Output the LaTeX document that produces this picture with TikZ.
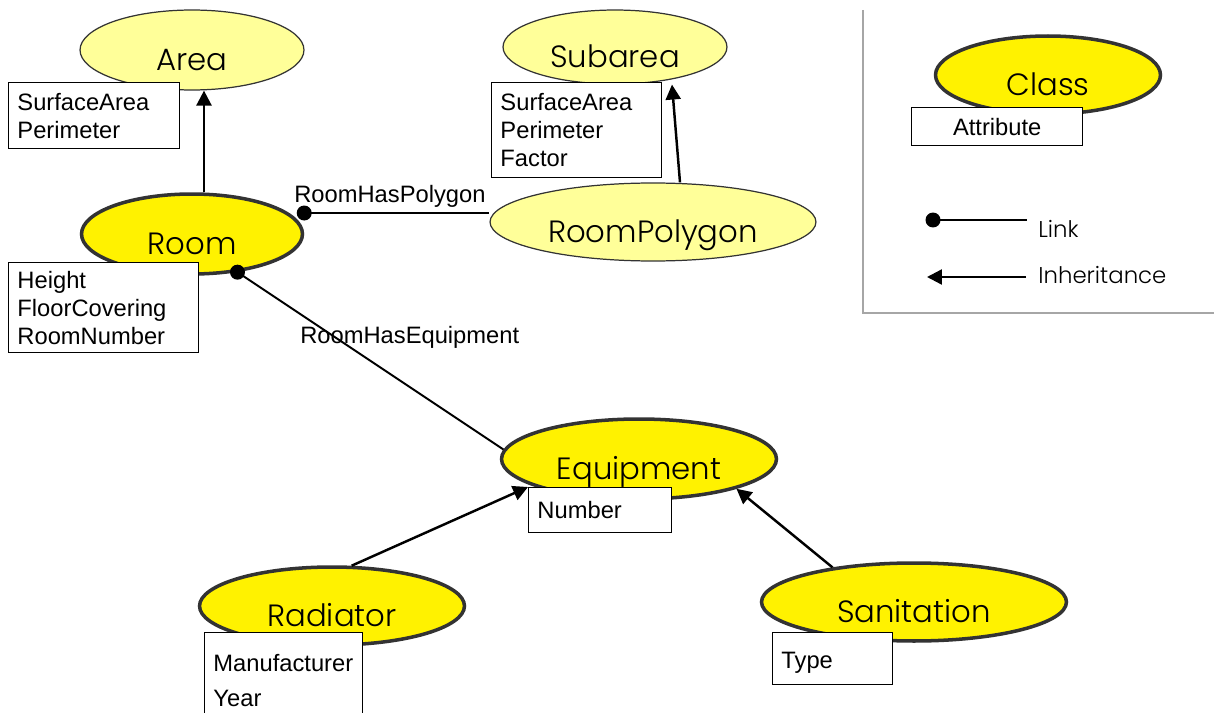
\documentclass[tikz,border=0pt]{standalone}
\usepackage{fontspec}
\setmainfont{Liberation Sans}
\newfontfamily\classfont{Poppins Light}
\usetikzlibrary{shapes.geometric}
\usetikzlibrary{arrows.meta}

\definecolor{paleyellow}{HTML}{FFFF99}
\definecolor{rimgray}{HTML}{333333}
\definecolor{framegray}{HTML}{A6A6A6}

% class names sit a little below the middle of their ellipse
\newcommand\clsname[1]{\raisebox{-7pt}[0.75em][0.2em]{#1}}

\tikzset{
  class/.style={ellipse, draw=rimgray, inner sep=0pt,
    font=\classfont\fontsize{17.5}{20}\selectfont},
  baseclass/.style={class, fill=paleyellow, line width=0.7pt},
  mainclass/.style={class, fill=yellow, line width=2pt},
  attr/.style={draw, fill=white, line width=0.8pt, anchor=north west, align=left,
    inner xsep=5pt, inner ysep=0pt, font=\fontsize{13.5}{15.9}\selectfont},
  inherit/.style={line width=1.4pt, -{Triangle[length=8.5pt,width=8.5pt]}},
  link/.style={line width=1.1pt},
  linklabel/.style={anchor=base west, inner sep=0pt, font=\fontsize{13.5}{16}\selectfont},
  legendlabel/.style={anchor=base west, inner sep=0pt, font=\classfont\fontsize{13}{16}\selectfont},
}

\begin{document}
\begin{tikzpicture}[x=0.02cm, y=-0.02cm]
\clip (0,0) rectangle (1214,713);

% classes
\node[baseclass, minimum width=4.48cm, minimum height=1.60cm] (Area) at (192,50) {\clsname{Area}};
\node[mainclass, minimum width=4.42cm, minimum height=1.60cm] (Room) at (192,234) {\clsname{Room}};
\node[baseclass, minimum width=4.48cm, minimum height=1.48cm] (Subarea) at (615,47) {\clsname{Subarea}};
\node[baseclass, minimum width=6.52cm, minimum height=1.56cm] (RoomPolygon) at (653,222) {\clsname{RoomPolygon}};
\node[mainclass, minimum width=5.50cm, minimum height=1.60cm] (Equipment) at (639,459) {\clsname{Equipment}};
\node[mainclass, minimum width=5.30cm, minimum height=1.56cm] (Radiator) at (332,606) {\clsname{Radiator}};
\node[mainclass, minimum width=6.10cm, minimum height=1.56cm] (Sanitation) at (914,602) {\clsname{Sanitation}};

% attribute boxes
\node[attr, text width=3.07cm, minimum height=1.32cm] (AreaAttr) at (8,82) {SurfaceArea\\Perimeter};
\node[attr, text width=3.45cm, minimum height=1.80cm] (RoomAttr) at (8,262) {Height\\FloorCovering\\RoomNumber};
\node[attr, text width=3.05cm, minimum height=1.90cm] (SubareaAttr) at (491,82) {SurfaceArea\\Perimeter\\Factor};
\node[attr, text width=2.51cm, minimum height=0.90cm] (Number) at (528,487) {Number};
\node[attr, text width=2.81cm, minimum height=1.92cm, font=\fontsize{13.5}{19.8}\selectfont] (RadiatorAttr) at (204,632) {Manufacturer\\Year};
\node[attr, text width=2.05cm, minimum height=1.04cm] (SanitationAttr) at (772,632) {\raisebox{-2.5pt}[\height][\depth]{Type}};

% inheritance
\draw[inherit] ([xshift=0.24cm]Room.north) -- ([xshift=0.24cm]Area.south);
\draw[inherit] ([xshift=0.54cm]RoomPolygon.north) -- ([xshift=1.14cm]Subarea.south);
\draw[inherit] (Radiator.64) -- (Number.north west);
\draw[inherit] (Sanitation.157) -- (Equipment.343);

% links
\draw[link] ([yshift=0.42cm]Room.east) coordinate (polyDot) -- (polyDot -| RoomPolygon.west);
\fill (polyDot) circle (0.15cm);
\draw[link] (Room.-40) -- (Equipment.176);
\fill (Room.-40) circle (0.15cm);
\node[linklabel] (hasPolygon) at (294,202) {RoomHasPolygon};
\node[linklabel] (hasEquipment) at (300,343) {RoomHasEquipment};

% legend
\draw[framegray, line width=1.1pt] (863,10) -- (863,313) -- (1214,313);
\node[mainclass, minimum width=4.50cm, minimum height=1.56cm] (Class) at (1048,75) {\clsname{Class}};
\node[attr, minimum width=3.42cm, minimum height=0.76cm, align=center] (ClassAttr) at (911,107) {Attribute};
\coordinate (linkA) at (933,220);
\coordinate (linkB) at (1027,220);
\draw[link] (linkA) -- (linkB);
\fill (linkA) circle (0.15cm);
\node[legendlabel] (linkText) at (1038,237) {Link};
\coordinate (inhA) at (1026,277);
\coordinate (inhB) at (927,277);
\draw[inherit] (inhA) -- (inhB);
\node[legendlabel] (inhText) at (1038,283) {Inheritance};
\end{tikzpicture}
\end{document}
